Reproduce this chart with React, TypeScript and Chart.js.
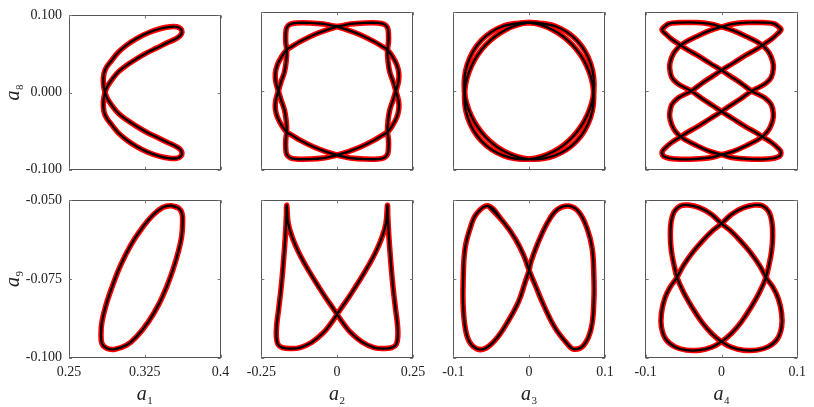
import React, { useEffect, useRef } from "react";
import { Chart, registerables } from "chart.js";

Chart.register(...registerables);

type Pt = [number, number];

// ---------------- tick values and labels ----------------
const xTicksA1 = [0.25, 0.325, 0.4];
const xLabelsA1 = ["0.25", "0.325", "0.4"];
const xTicksA2 = [-0.25, 0, 0.25];
const xLabelsA2 = ["-0.25", "0", "0.25"];
const xTicksA3 = [-0.1, 0, 0.1];
const xLabelsA3 = ["-0.1", "0", "0.1"];
const xTicksA4 = [-0.1, 0, 0.1];
const xLabelsA4 = ["-0.1", "0", "0.1"];
const yTicksA8 = [-0.1, 0, 0.1];
const yLabelsA8 = ["-0.100", "0.000", "0.100"];
const yTicksA9 = [-0.1, -0.075, -0.05];
const yLabelsA9 = ["-0.100", "-0.075", "-0.050"];

// ---------------- curves (x, y) ----------------
// a1 vs a8
const curveA1A8: Pt[] = [
  [0.2856, 0.0], [0.2879, -0.0078], [0.2922, -0.0163], [0.2988, -0.0268], [0.307, -0.0353],
  [0.3169, -0.0438], [0.3268, -0.0514], [0.3367, -0.0577], [0.3466, -0.0641], [0.3548, -0.0691],
  [0.3598, -0.0734], [0.3618, -0.0784], [0.3605, -0.0827], [0.3565, -0.0852], [0.3499, -0.0852],
  [0.34, -0.0827], [0.3285, -0.0776], [0.3169, -0.07], [0.307, -0.0615], [0.2988, -0.0522],
  [0.2922, -0.0416], [0.2873, -0.0332], [0.2846, -0.0247], [0.284, -0.0121],
  [0.2856, 0.0], [0.2879, 0.0078], [0.2922, 0.0163], [0.2988, 0.0268], [0.307, 0.0353],
  [0.3169, 0.0438], [0.3268, 0.0514], [0.3367, 0.0577], [0.3466, 0.0641], [0.3548, 0.0691],
  [0.3598, 0.0734], [0.3618, 0.0784], [0.3605, 0.0827], [0.3565, 0.0852], [0.3499, 0.0852],
  [0.34, 0.0827], [0.3285, 0.0776], [0.3169, 0.07], [0.307, 0.0615], [0.2988, 0.0522],
  [0.2922, 0.0416], [0.2873, 0.0332], [0.2846, 0.0247], [0.284, 0.0121],
];

// a2 vs a8 (two loops)
const curveA2A8a: Pt[] = [
  [0, 0.0818], [-0.0337, 0.0776], [-0.0778, 0.0712], [-0.122, 0.0628], [-0.1496, 0.0564],
  [-0.1661, 0.0522], [-0.1827, 0.0438], [-0.197, 0.0332], [-0.2036, 0.0226], [-0.2025, 0.0121],
  [-0.1937, 0], [-0.1849, -0.0112], [-0.1738, -0.0239], [-0.1683, -0.0366], [-0.1661, -0.0514],
  [-0.1694, -0.0619], [-0.1694, -0.0725], [-0.1661, -0.0805], [-0.1551, -0.0848], [-0.133, -0.0865],
  [-0.0889, -0.0865], [-0.0447, -0.0852], [-0.0171, -0.0831], [0, -0.0814], [0.0326, -0.0776],
  [0.0767, -0.0712], [0.1208, -0.0628], [0.1484, -0.0564], [0.1661, -0.0522], [0.1827, -0.0438],
  [0.197, -0.0332], [0.2036, -0.0226], [0.2025, -0.0121], [0.1937, 0], [0.1849, 0.0116],
  [0.1738, 0.0239], [0.1683, 0.0366], [0.1661, 0.0514], [0.1694, 0.0619], [0.1694, 0.0725],
  [0.1661, 0.0805], [0.1551, 0.0848], [0.133, 0.0865], [0.0889, 0.0865], [0.0447, 0.0852],
  [0.0171, 0.0831],
];
const curveA2A8b: Pt[] = [
  [0, 0.0818], [0.0337, 0.0776], [0.0778, 0.0712], [0.122, 0.0628], [0.1496, 0.0564],
  [0.1661, 0.0522], [0.1827, 0.0438], [0.197, 0.0332], [0.2036, 0.0226], [0.2025, 0.0121],
  [0.1937, 0], [0.1849, -0.0112], [0.1738, -0.0239], [0.1683, -0.0366], [0.1661, -0.0514],
  [0.1694, -0.0619], [0.1694, -0.0725], [0.1661, -0.0805], [0.1551, -0.0848], [0.133, -0.0865],
  [0.0889, -0.0865], [0.0447, -0.0852], [0.0171, -0.0831], [0, -0.0814], [-0.0326, -0.0776],
  [-0.0767, -0.0712], [-0.1208, -0.0628], [-0.1484, -0.0564], [-0.1661, -0.0522], [-0.1827, -0.0438],
  [-0.197, -0.0332], [-0.2036, -0.0226], [-0.2025, -0.0121], [-0.1937, 0], [-0.1849, 0.0116],
  [-0.1738, 0.0239], [-0.1683, 0.0366], [-0.1661, 0.0514], [-0.1694, 0.0619], [-0.1694, 0.0725],
  [-0.1661, 0.0805], [-0.1551, 0.0848], [-0.133, 0.0865], [-0.0889, 0.0865], [-0.0447, 0.0852],
  [-0.0171, 0.0831],
];

// a3 vs a8 (two loops)
const curveA3A8a: Pt[] = [
  [0, 0.0869], [-0.034, 0.0826], [-0.0631, 0.0642], [-0.0814, 0.0342], [-0.0854, 0],
  [-0.0762, -0.0318], [-0.0574, -0.0584], [-0.0318, -0.0772], [0, -0.0865], [0.0335, -0.0822],
  [0.0626, -0.0638], [0.081, -0.0338], [0.085, 0], [0.0758, 0.0322], [0.057, 0.0588],
  [0.0314, 0.0776],
];
const curveA3A8b: Pt[] = [
  [0, 0.0869], [0.034, 0.0826], [0.0631, 0.0642], [0.0814, 0.0342], [0.0854, 0],
  [0.0762, -0.0318], [0.0574, -0.0584], [0.0318, -0.0772], [0, -0.0865], [-0.0335, -0.0822],
  [-0.0626, -0.0638], [-0.081, -0.0338], [-0.085, 0], [-0.0758, 0.0322], [-0.057, 0.0588],
  [-0.0314, 0.0776],
];

// a4 vs a8 (two loops)
const curveA4A8a: Pt[] = [
  [-0.0785, 0.0784], [-0.0701, 0.0852], [-0.0547, 0.0869], [-0.0327, 0.0869], [-0.0152, 0.0852],
  [0, 0.0814], [0.0156, 0.0767], [0.0332, 0.0691], [0.0486, 0.0615], [0.056, 0.0564],
  [0.0631, 0.048], [0.0675, 0.0374], [0.0684, 0.029], [0.0657, 0.0175], [0.0587, 0.0099],
  [0.0499, 0.0049], [0.0398, 0], [0.0244, -0.0104], [0.0112, -0.0188], [0, -0.026],
  [-0.0152, -0.0353], [-0.0327, -0.0459], [-0.0451, -0.0526], [-0.0547, -0.0586], [-0.0657, -0.0653],
  [-0.0745, -0.0725], [-0.0785, -0.078], [-0.0745, -0.0839], [-0.0591, -0.0865], [-0.0371, -0.0865],
  [-0.0152, -0.0848], [0, -0.0809], [0.0156, -0.0767], [0.0332, -0.0691], [0.0486, -0.0615],
  [0.056, -0.0564], [0.0631, -0.048], [0.0675, -0.0374], [0.0684, -0.029], [0.0657, -0.0175],
  [0.0587, -0.0099], [0.0499, -0.0049], [0.0398, 0], [0.0244, 0.0108], [0.0112, 0.0192],
  [0, 0.0264], [-0.0152, 0.0353], [-0.0327, 0.0459], [-0.0451, 0.0526], [-0.0547, 0.0586],
  [-0.0657, 0.0658], [-0.0736, 0.0725],
];
const curveA4A8b: Pt[] = [
  [0.0785, 0.0784], [0.0701, 0.0852], [0.0547, 0.0869], [0.0327, 0.0869], [0.0152, 0.0852],
  [0, 0.0814], [-0.0156, 0.0767], [-0.0332, 0.0691], [-0.0486, 0.0615], [-0.056, 0.0564],
  [-0.0631, 0.048], [-0.0675, 0.0374], [-0.0684, 0.029], [-0.0657, 0.0175], [-0.0587, 0.0099],
  [-0.0499, 0.0049], [-0.0398, 0], [-0.0244, -0.0104], [-0.0112, -0.0188], [0, -0.026],
  [0.0152, -0.0353], [0.0327, -0.0459], [0.0451, -0.0526], [0.0547, -0.0586], [0.0657, -0.0653],
  [0.0745, -0.0725], [0.0785, -0.078], [0.0745, -0.0839], [0.0591, -0.0865], [0.0371, -0.0865],
  [0.0152, -0.0848], [0, -0.0809], [-0.0156, -0.0767], [-0.0332, -0.0691], [-0.0486, -0.0615],
  [-0.056, -0.0564], [-0.0631, -0.048], [-0.0675, -0.0374], [-0.0684, -0.029], [-0.0657, -0.0175],
  [-0.0587, -0.0099], [-0.0499, -0.0049], [-0.0398, 0], [-0.0244, 0.0108], [-0.0112, 0.0192],
  [0, 0.0264], [0.0152, 0.0353], [0.0327, 0.0459], [0.0451, 0.0526], [0.0547, 0.0586],
  [0.0657, 0.0658], [0.0736, 0.0725],
];

// a1 vs a9
const curveA1A9: Pt[] = [
  [0.3506, -0.0517], [0.3581, -0.0524], [0.3618, -0.0542], [0.3624, -0.0574], [0.3614, -0.0616],
  [0.3581, -0.0664], [0.3532, -0.0717], [0.3466, -0.0775], [0.3384, -0.0833], [0.3285, -0.0886],
  [0.3169, -0.0933], [0.307, -0.096], [0.2955, -0.0973], [0.2873, -0.097], [0.2826, -0.0955],
  [0.2817, -0.0923], [0.2826, -0.0886], [0.2866, -0.0833], [0.2932, -0.077], [0.3011, -0.0706],
  [0.311, -0.0643], [0.3219, -0.059], [0.3328, -0.0548], [0.3426, -0.0523],
];

// a2 vs a9
const curveA2A9: Pt[] = [
  [-0.1661, -0.0516], [-0.1672, -0.0548], [-0.1705, -0.0611], [-0.1761, -0.0685], [-0.1838, -0.077],
  [-0.1926, -0.0844], [-0.1992, -0.0896], [-0.2003, -0.0933], [-0.1948, -0.0958], [-0.1805, -0.0968],
  [-0.1551, -0.0971], [-0.122, -0.0968], [-0.0833, -0.0951], [-0.0447, -0.092], [-0.0204, -0.0891],
  [0, -0.0862], [0.0204, -0.0833], [0.0392, -0.0807], [0.0613, -0.0774], [0.0833, -0.074],
  [0.1054, -0.0704], [0.1275, -0.0664], [0.1462, -0.0622], [0.1608, -0.0575], [0.1661, -0.0516],
  [0.1672, -0.0548], [0.1705, -0.0611], [0.1761, -0.0685], [0.1838, -0.077], [0.1926, -0.0844],
  [0.1992, -0.0896], [0.2003, -0.0933], [0.1948, -0.0958], [0.1805, -0.0968], [0.1551, -0.0971],
  [0.122, -0.0968], [0.0833, -0.0951], [0.0447, -0.092], [0.0204, -0.0891], [0, -0.0862],
  [-0.0204, -0.0833], [-0.0392, -0.0807], [-0.0613, -0.0774], [-0.0833, -0.074], [-0.1054, -0.0704],
  [-0.1275, -0.0664], [-0.1462, -0.0622], [-0.1608, -0.0575],
];

// a3 vs a9
const curveA3A9: Pt[] = [
  [-0.0536, -0.0518], [-0.0338, -0.0569], [-0.0183, -0.0622], [-0.0073, -0.0674], [0, -0.0722],
  [0.0082, -0.077], [0.0192, -0.0833], [0.0347, -0.0907], [0.0501, -0.0955], [0.0589, -0.0973],
  [0.0722, -0.096], [0.0819, -0.0907], [0.0854, -0.0822], [0.0854, -0.0738], [0.0832, -0.0653],
  [0.0766, -0.059], [0.0656, -0.0537], [0.0523, -0.0518], [0.0369, -0.053], [0.0236, -0.0574],
  [0.0104, -0.0643], [0.0024, -0.0696], [0, -0.0722], [-0.0051, -0.0759], [-0.0139, -0.0822],
  [-0.0294, -0.0891], [-0.0448, -0.0944], [-0.0603, -0.0973], [-0.0735, -0.0965], [-0.0823, -0.0928],
  [-0.0868, -0.0844], [-0.0868, -0.0738], [-0.0845, -0.0653], [-0.0779, -0.059], [-0.0691, -0.0542],
];

// a4 vs a9 (two loops)
const curveA4A9a: Pt[] = [
  [0, -0.0574], [-0.013, -0.0545], [-0.0284, -0.0524], [-0.0437, -0.0515], [-0.0547, -0.0518],
  [-0.0626, -0.0537], [-0.0665, -0.0569], [-0.0675, -0.0611], [-0.0662, -0.0659], [-0.0626, -0.0706],
  [-0.0582, -0.0748], [-0.0503, -0.0791], [-0.0393, -0.0838], [-0.0262, -0.0886], [-0.013, -0.0923],
  [0, -0.0949], [0.0134, -0.0967], [0.0288, -0.0976], [0.0464, -0.0976], [0.0618, -0.0965],
  [0.0736, -0.0941], [0.0793, -0.0902], [0.0793, -0.0859], [0.0749, -0.0812], [0.0675, -0.0775],
  [0.0596, -0.0748], [0.0499, -0.0706], [0.0376, -0.0664], [0.0244, -0.0627], [0.0112, -0.0595],
];
const curveA4A9b: Pt[] = [
  [0, -0.0574], [0.013, -0.0545], [0.0284, -0.0524], [0.0437, -0.0515], [0.0547, -0.0518],
  [0.0626, -0.0537], [0.0665, -0.0569], [0.0675, -0.0611], [0.0662, -0.0659], [0.0626, -0.0706],
  [0.0582, -0.0748], [0.0503, -0.0791], [0.0393, -0.0838], [0.0262, -0.0886], [0.013, -0.0923],
  [0, -0.0949], [-0.0134, -0.0967], [-0.0288, -0.0976], [-0.0464, -0.0976], [-0.0618, -0.0965],
  [-0.0736, -0.0941], [-0.0793, -0.0902], [-0.0793, -0.0859], [-0.0749, -0.0812], [-0.0675, -0.0775],
  [-0.0596, -0.0748], [-0.0499, -0.0706], [-0.0376, -0.0664], [-0.0244, -0.0627], [-0.0112, -0.0595],
];

// ---------------- layout / style ----------------
const W = 814;
const H = 407;
const COL_LEFT = [69, 261.3, 453.3, 645.7];
const PANEL_W = 151.6;
const ROW_TOP = [12.3, 200.3];
const PANEL_H = 157.4;
const Y_LABEL_BOX = 69;
const X_LABEL_BOX = 30;
const FRAME = "#555555";
const TICK = "#777777";
const TEXT = "#222222";
const SERIF = "'Liberation Serif', 'Times New Roman', serif";

type Spec = {
  row: number;
  col: number;
  xr: [number, number];
  yr: [number, number];
  xt: number[];
  xl: string[];
  yt: number[];
  yl: string[];
  loops: Pt[][];
  xs: string;
  ys: string;
};

const panels: Spec[] = [
  { row: 0, col: 0, xr: [0.25, 0.4], yr: [-0.1, 0.1], xt: xTicksA1, xl: xLabelsA1, yt: yTicksA8, yl: yLabelsA8, loops: [curveA1A8], xs: "1", ys: "8" },
  { row: 0, col: 1, xr: [-0.25, 0.25], yr: [-0.1, 0.1], xt: xTicksA2, xl: xLabelsA2, yt: yTicksA8, yl: yLabelsA8, loops: [curveA2A8a, curveA2A8b], xs: "2", ys: "8" },
  { row: 0, col: 2, xr: [-0.1, 0.1], yr: [-0.1, 0.1], xt: xTicksA3, xl: xLabelsA3, yt: yTicksA8, yl: yLabelsA8, loops: [curveA3A8a, curveA3A8b], xs: "3", ys: "8" },
  { row: 0, col: 3, xr: [-0.1, 0.1], yr: [-0.1, 0.1], xt: xTicksA4, xl: xLabelsA4, yt: yTicksA8, yl: yLabelsA8, loops: [curveA4A8a, curveA4A8b], xs: "4", ys: "8" },
  { row: 1, col: 0, xr: [0.25, 0.4], yr: [-0.1, -0.05], xt: xTicksA1, xl: xLabelsA1, yt: yTicksA9, yl: yLabelsA9, loops: [curveA1A9], xs: "1", ys: "9" },
  { row: 1, col: 1, xr: [-0.25, 0.25], yr: [-0.1, -0.05], xt: xTicksA2, xl: xLabelsA2, yt: yTicksA9, yl: yLabelsA9, loops: [curveA2A9], xs: "2", ys: "9" },
  { row: 1, col: 2, xr: [-0.1, 0.1], yr: [-0.1, -0.05], xt: xTicksA3, xl: xLabelsA3, yt: yTicksA9, yl: yLabelsA9, loops: [curveA3A9], xs: "3", ys: "9" },
  { row: 1, col: 3, xr: [-0.1, 0.1], yr: [-0.1, -0.05], xt: xTicksA4, xl: xLabelsA4, yt: yTicksA9, yl: yLabelsA9, loops: [curveA4A9a, curveA4A9b], xs: "4", ys: "9" },
];

// close a loop by repeating its first two points
const closed = (pts: Pt[]) => [...pts, pts[0], pts[1]].map(([x, y]) => ({ x, y }));

function drawSubLabel(ctx: CanvasRenderingContext2D, sub: string, cx: number, cy: number, rotate: boolean) {
  ctx.save();
  ctx.translate(cx, cy);
  if (rotate) ctx.rotate(-Math.PI / 2);
  ctx.fillStyle = TEXT;
  ctx.textBaseline = "alphabetic";
  ctx.textAlign = "left";
  ctx.font = `italic 20px ${SERIF}`;
  const wa = ctx.measureText("a").width;
  ctx.font = `11px ${SERIF}`;
  const ws = ctx.measureText(sub).width;
  const total = wa + ws + 0.5;
  ctx.font = `italic 20px ${SERIF}`;
  ctx.fillText("a", -total / 2, 0);
  ctx.font = `11px ${SERIF}`;
  ctx.fillText(sub, -total / 2 + wa + 0.5, 4);
  ctx.restore();
}

const innerTicks = {
  id: "innerTicks",
  afterDraw(chart: any) {
    const { ctx, chartArea: a, scales } = chart;
    const len = 3;
    ctx.save();
    ctx.strokeStyle = TICK;
    ctx.lineWidth = 1;
    ctx.beginPath();
    scales.x.ticks.forEach((t: any) => {
      const px = Math.round(scales.x.getPixelForValue(t.value)) + 0.5;
      ctx.moveTo(px, a.bottom);
      ctx.lineTo(px, a.bottom - len);
      ctx.moveTo(px, a.top);
      ctx.lineTo(px, a.top + len);
    });
    scales.y.ticks.forEach((t: any) => {
      const py = Math.round(scales.y.getPixelForValue(t.value)) + 0.5;
      ctx.moveTo(a.left, py);
      ctx.lineTo(a.left + len, py);
      ctx.moveTo(a.right, py);
      ctx.lineTo(a.right - len, py);
    });
    ctx.stroke();
    ctx.restore();
  },
};

function Panel({ spec }: { spec: Spec }) {
  const ref = useRef<HTMLCanvasElement | null>(null);
  useEffect(() => {
    const canvas = ref.current;
    if (!canvas) return;
    const left = COL_LEFT[spec.col];
    const top = ROW_TOP[spec.row];
    const yBox = spec.col === 0 ? Y_LABEL_BOX : 0;
    const xBox = spec.row === 1 ? X_LABEL_BOX : 0;
    const titles = {
      id: "subTitles",
      afterDraw(chart: any) {
        const a = chart.chartArea;
        if (spec.row === 1) drawSubLabel(chart.ctx, spec.xs, (a.left + a.right) / 2, a.bottom + 42, false);
        if (spec.col === 0) drawSubLabel(chart.ctx, spec.ys, 19, (a.top + a.bottom) / 2, true);
      },
    };
    const black = spec.loops.map((l) => ({
      data: closed(l),
      borderColor: "#000000",
      borderWidth: 2.3,
      pointRadius: 0,
      tension: 0.4,
      fill: false,
    }));
    const red = spec.loops.map((l) => ({
      data: closed(l),
      borderColor: "#ff0000",
      borderWidth: 5.5,
      pointRadius: 0,
      tension: 0.4,
      fill: false,
    }));
    const tickFont = { family: SERIF, size: 14 };
    const chart = new Chart(canvas, {
      type: "line",
      data: { datasets: [...black, ...red] as any },
      options: {
        responsive: false,
        animation: false,
        events: [],
        layout: {
          autoPadding: false,
          padding: {
            left: left - yBox,
            top,
            right: W - left - PANEL_W,
            bottom: H - top - PANEL_H - xBox,
          },
        },
        plugins: { legend: { display: false }, tooltip: { enabled: false } },
        scales: {
          x: {
            type: "linear",
            position: "bottom",
            min: spec.xr[0],
            max: spec.xr[1],
            afterBuildTicks: (s: any) => {
              s.ticks = spec.xt.map((v) => ({ value: v }));
            },
            afterFit: (s: any) => {
              s.height = xBox;
            },
            ticks: {
              display: spec.row === 1,
              autoSkip: false,
              maxRotation: 0,
              minRotation: 0,
              padding: 6,
              color: TEXT,
              font: tickFont,
              callback: (_v: any, i: number) => spec.xl[i],
            },
            grid: { display: false, drawTicks: false },
            border: { display: true, color: FRAME, width: 1 },
          },
          y: {
            type: "linear",
            position: "left",
            min: spec.yr[0],
            max: spec.yr[1],
            afterBuildTicks: (s: any) => {
              s.ticks = spec.yt.map((v) => ({ value: v }));
            },
            afterFit: (s: any) => {
              s.width = yBox;
            },
            ticks: {
              display: spec.col === 0,
              autoSkip: false,
              padding: 7,
              color: TEXT,
              font: tickFont,
              callback: (_v: any, i: number) => spec.yl[i],
            },
            grid: { display: false, drawTicks: false },
            border: { display: true, color: FRAME, width: 1 },
          },
          x2: {
            type: "linear",
            position: "top",
            min: spec.xr[0],
            max: spec.xr[1],
            afterFit: (s: any) => {
              s.height = 0;
            },
            ticks: { display: false },
            grid: { display: false, drawTicks: false },
            border: { display: true, color: FRAME, width: 1 },
          },
          y2: {
            type: "linear",
            position: "right",
            min: spec.yr[0],
            max: spec.yr[1],
            afterFit: (s: any) => {
              s.width = 0;
            },
            ticks: { display: false },
            grid: { display: false, drawTicks: false },
            border: { display: true, color: FRAME, width: 1 },
          },
        },
      } as any,
      plugins: [innerTicks, titles] as any,
    });
    return () => chart.destroy();
  }, [spec]);
  return (
    <canvas
      ref={ref}
      width={W}
      height={H}
      style={{ position: "absolute", left: 0, top: 0, width: W, height: H }}
    />
  );
}

export default function App() {
  return (
    <div style={{ position: "absolute", left: 0, top: 0, width: W, height: H, background: "#ffffff", overflow: "hidden" }}>
      {panels.map((p, i) => (
        <Panel key={i} spec={p} />
      ))}
    </div>
  );
}
